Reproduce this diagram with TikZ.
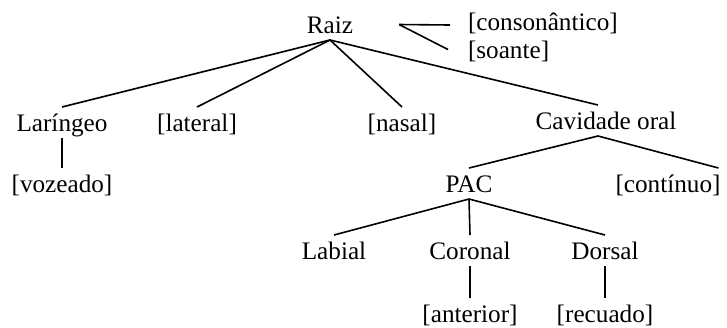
\documentclass[tikz,border=0pt]{standalone}
\usepackage{fontspec}
\setmainfont{Liberation Serif}
\usetikzlibrary{positioning}

\begin{document}
\begin{tikzpicture}[
    x=0.5bp, y=-0.5bp,
    node distance=15bp and 20bp,
    tnode/.style={inner sep=0pt, outer sep=0pt, anchor=base, text height=12bp, text depth=3.5bp, font=\fontsize{12.6bp}{15bp}\selectfont},
    branch/.style={line width=0.8bp}
]
\useasboundingbox (0,0) rectangle (727,327);

\node[tnode] (raiz) at (330,33) {Raiz};
\node[tnode, anchor=base west] (cons) at (468,30) {[consonântico]};
\node[tnode, anchor=base west] (soan) at (468,58) {[soante]};
\coordinate (fork) at ([xshift=23bp]raiz.east);

\node[tnode] (lar) at (62,131) {Laríngeo};
\node[tnode] (lat) at (197,131) {[lateral]};
\node[tnode] (nas) at (402,131) {[nasal]};
\node[tnode] (cav) at (606,129) {Cavidade oral};
\node[tnode, below=of lar] (voz) {[vozeado]};

\node[tnode] (pac) at (469,192) {PAC};
\node[tnode] (cont) at (668,192) {[contínuo]};

\node[tnode] (lab) at (334,259) {Labial};
\node[tnode] (cor) at (470,259) {Coronal};
\node[tnode] (dor) at (605,259) {Dorsal};
\node[tnode, below=16bp of cor] (ant) {[anterior]};
\node[tnode, below=16bp of dor] (rec) {[recuado]};

% traços de ligação
\draw[branch] (fork) -- ([xshift=-9bp,yshift=-1.75bp]cons.west);
\draw[branch] (fork) -- ([xshift=-10bp]soan.west);
\draw[branch] (raiz.south) -- (lar.north);
\draw[branch] (raiz.south) -- (lat.north);
\draw[branch] (raiz.south) -- (nas.north);
\draw[branch] (raiz.south) -- ([xshift=-4bp]cav.north);
\draw[branch] (lar.south) -- (voz.north);
\draw[branch] ([xshift=-4bp]cav.south) -- (pac.north);
\draw[branch] ([xshift=-4bp]cav.south) -- ([xshift=-1bp]cont.north east);
\draw[branch] (pac.south) -- (lab.north);
\draw[branch] (pac.south) -- (cor.north);
\draw[branch] (pac.south) -- (dor.north);
\draw[branch] (cor.south) -- (ant.north);
\draw[branch] (dor.south) -- (rec.north);
\end{tikzpicture}
\end{document}
